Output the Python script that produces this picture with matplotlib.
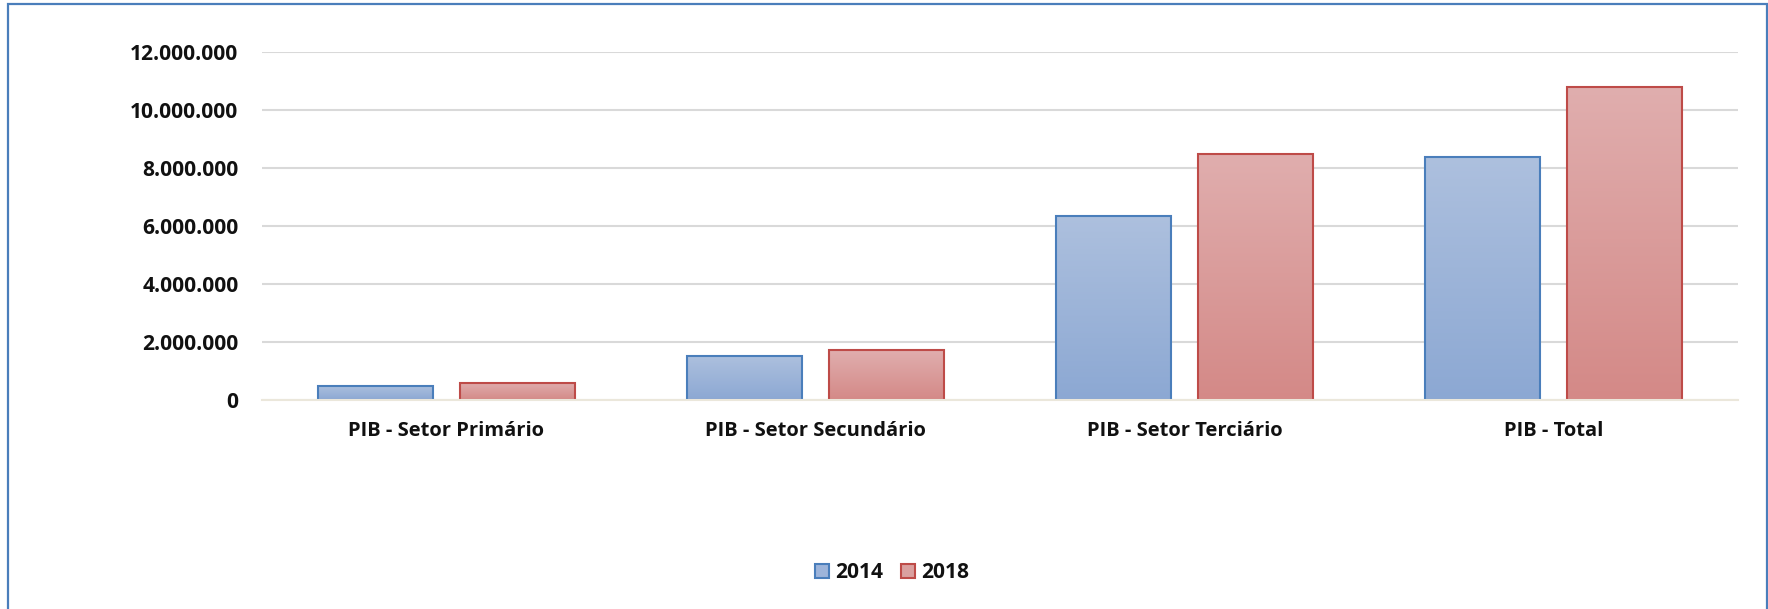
import matplotlib
matplotlib.use("Agg")
import matplotlib.pyplot as plt
import numpy as np
from matplotlib.colors import LinearSegmentedColormap
from matplotlib.patches import Patch, Rectangle
from matplotlib.ticker import FuncFormatter

categories = ["PIB - Setor Primário", "PIB - Setor Secundário", "PIB - Setor Terciário", "PIB - Total"]
series_names = ["2014", "2018"]
v2014 = [505000, 1530000, 6360000, 8380000]
v2018 = [608000, 1720000, 8470000, 10800000]
yticks = [0, 2000000, 4000000, 6000000, 8000000, 10000000, 12000000]

plt.rcParams['font.family'] = ['Open Sans', 'DejaVu Sans']
FS = 15.1
FSX = 14.5

fig = plt.figure(figsize=(17.68, 6.09), dpi=100)
ax = fig.add_axes([262/1768, 1-400.3/609, (1738-262)/1768, (400.3-51.7)/609])

x = np.arange(len(categories))
w = 0.3117
off = 0.1916

styles = [
    dict(edge="#4a7ebb", top="#adc0de", bot="#8ca8d3"),
    dict(edge="#be4b48", top="#e0aeae", bot="#d48987"),
]

for i, (vals, st) in enumerate(zip([v2014, v2018], styles)):
    pos = x - off if i == 0 else x + off
    bars = ax.bar(pos, vals, width=w, facecolor='none', edgecolor=st["edge"],
                  linewidth=1.5, zorder=3)
    cmap = LinearSegmentedColormap.from_list("g%d" % i, [st["bot"], st["top"]])
    grad = np.linspace(0, 1, 256).reshape(-1, 1)
    for b in bars:
        x0, y0 = b.get_xy()
        ax.imshow(grad, extent=[x0, x0 + b.get_width(), y0, y0 + b.get_height()],
                  origin='lower', aspect='auto', cmap=cmap, zorder=2.5,
                  interpolation='bilinear')

ax.set_xlim(-0.5, 3.5)
ax.set_ylim(0, 12000000)
ax.set_yticks(yticks)
ax.yaxis.set_major_formatter(FuncFormatter(lambda v, p: f"{int(v):,}".replace(",", ".")))
ax.set_xticks(x)
ax.set_xticklabels(categories)

for s in ["top", "right", "left"]:
    ax.spines[s].set_visible(False)
ax.spines["bottom"].set_color("#ebe7db")
ax.spines["bottom"].set_linewidth(1.5)
ax.spines["bottom"].set_zorder(4)

ax.grid(axis='y', color='#d9d9d9', linewidth=1.5, zorder=0)
ax.set_axisbelow(True)
ax.tick_params(axis='y', length=0, labelsize=FS, colors='#111111', pad=17)
ax.tick_params(axis='x', length=0, labelsize=FSX, colors='#111111', pad=15)
for lab in ax.get_xticklabels() + ax.get_yticklabels():
    lab.set_fontweight('bold')

handles = [Patch(facecolor="#9db4da", edgecolor="#4a7ebb", linewidth=1.5),
           Patch(facecolor="#daa09f", edgecolor="#be4b48", linewidth=1.5)]
leg = fig.legend(handles, series_names, loc='center', bbox_to_anchor=(892/1768, 1-572.7/609),
                 ncol=2, frameon=False, handlelength=0.67, handleheight=0.67,
                 handletextpad=0.3, columnspacing=0.85,
                 prop={'weight': 'bold', 'size': FS})
for t in leg.get_texts():
    t.set_color('#111111')

border = Rectangle((8/1768, -0.05), (1767-8)/1768, 1.05 - 3.5/609,
                   transform=fig.transFigure, fill=False, edgecolor="#4a7ebb",
                   linewidth=1.6, zorder=10)
fig.patches.append(border)

fig.savefig("out.png", dpi=100)
